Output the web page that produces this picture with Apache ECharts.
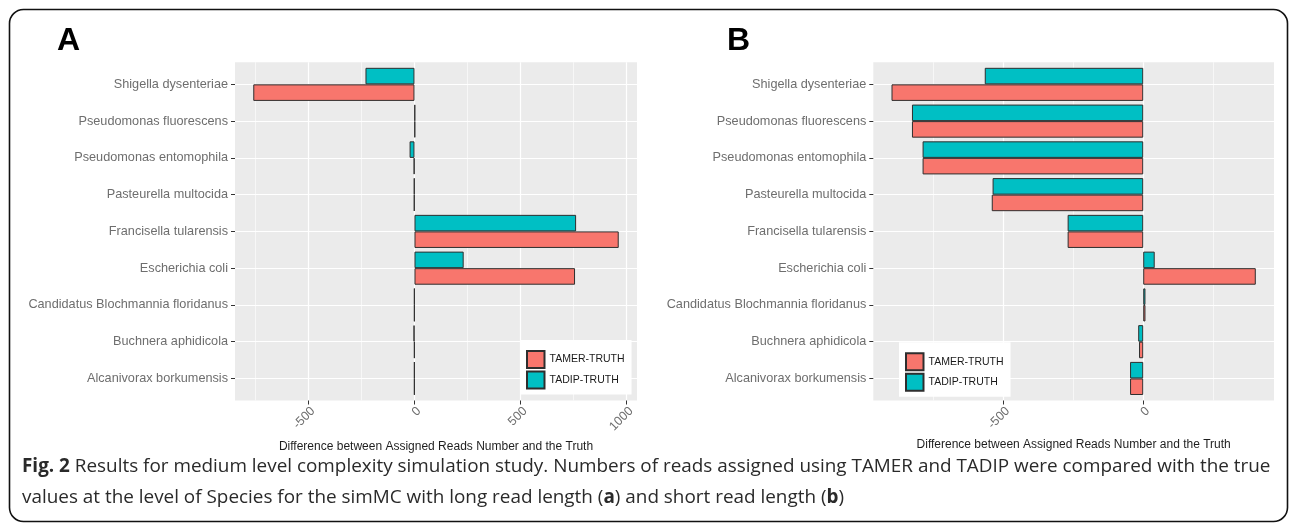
<!DOCTYPE html>
<html><head><meta charset="utf-8">
<script src="https://cdn.jsdelivr.net/npm/echarts@6/dist/echarts.min.js"></script>
<style>html,body{margin:0;padding:0;background:#fff}#c{width:1295px;height:523px}</style>
</head><body><div id="c"></div>
<script>
// ---- data ----
const categories = ['Shigella dysenteriae','Pseudomonas fluorescens','Pseudomonas entomophila','Pasteurella multocida','Francisella tularensis','Escherichia coli','Candidatus Blochmannia floridanus','Buchnera aphidicola','Alcanivorax borkumensis'];
const tamerA = [-760, 3, -3, -2, 963, 757, -1, -1, -1];
const tadipA = [-231, 3, -23, -2, 762, 232, -1, -4, -1];
const tamerB = [-899, -826, -788, -541, -270, 402, 8, -15, -47];
const tadipB = [-566, -826, -788, -538, -270, 41, 8, -18, -47];
const majorTicksA = [-500, 0, 500, 1000];
const minorTicksA = [-750, -250, 250, 750];
const majorTicksB = [-500, 0];
const minorTicksB = [-750, -250, 250];
const seriesNames = ['TAMER-TRUTH', 'TADIP-TRUTH'];
const axisTitle = 'Difference between Assigned Reads Number and the Truth';

function limits(a, b) {
  const all = a.concat(b, [0]);
  const lo = Math.min(...all), hi = Math.max(...all);
  const pad = (hi - lo) * 0.05;
  return [lo - pad, hi + pad];
}

const TAMER_COL = '#F8766D', TADIP_COL = '#00BFC4';
const labelGray = '#6e6e6e';
const FONT = 'Liberation Sans';

const panelTop = 62.3, panelH = 338.2;
const inset = panelH / 9.2 * 0.1;

const grids = [], xAxes = [], yAxes = [], series = [];

function addPanel(left, width, lim, major, minor, tamer, tadip) {
  const g0 = grids.length;
  grids.push({left: left, top: panelTop, width: width, height: panelH, show: true, backgroundColor: '#EBEBEB', borderWidth: 0, containLabel: false});
  grids.push({left: left, top: panelTop + inset, width: width, height: panelH - 2 * inset, containLabel: false});
  const g1 = g0 + 1;
  xAxes.push({
    gridIndex: g0, type: 'value', min: lim[0], max: lim[1], position: 'bottom',
    axisLine: {show: false, onZero: false},
    axisTick: {show: true, customValues: major, length: 4, lineStyle: {color: '#333', width: 1}},
    axisLabel: {show: true, customValues: major, rotate: 45, color: labelGray, fontSize: 12.5, margin: 4,
      verticalAlign: 'top', fontFamily: FONT, formatter: v => String(v)},
    splitLine: {show: true, lineStyle: {color: '#fff', width: 1.2}},
    name: axisTitle, nameLocation: 'middle', nameGap: 38,
    nameTextStyle: {color: '#1e1e1e', fontSize: 12, fontFamily: FONT}
  });
  xAxes.push({
    gridIndex: g0, type: 'value', min: lim[0], max: lim[1], position: 'bottom',
    axisLine: {show: false, onZero: false},
    axisTick: {show: false, customValues: minor},
    axisLabel: {show: false, customValues: minor},
    splitLine: {show: true, lineStyle: {color: '#fff', width: 0.6}}
  });
  const xBar = xAxes.length;
  xAxes.push({gridIndex: g1, type: 'value', min: lim[0], max: lim[1], show: false});
  yAxes.push({gridIndex: g0, type: 'value', min: 0, max: 1, show: false});
  const yBar = yAxes.length;
  yAxes.push({
    gridIndex: g1, type: 'category', data: categories, inverse: true, position: 'left',
    axisLine: {show: false, onZero: false},
    axisTick: {show: true, alignWithLabel: true, interval: 0, length: 4, lineStyle: {color: '#333', width: 1}},
    axisLabel: {interval: 0, color: labelGray, fontSize: 12.7, margin: 7, fontFamily: FONT},
    splitLine: {show: true, alignWithLabel: true, interval: 0, lineStyle: {color: '#fff', width: 1.2}}
  });
  const common = {type: 'bar', xAxisIndex: xBar, yAxisIndex: yBar, barGap: '0%', barCategoryGap: '10%',
    emphasis: {disabled: true}, silent: true};
  series.push(Object.assign({}, common, {name: seriesNames[1], data: tadip,
    itemStyle: {color: TADIP_COL, borderColor: '#2e2e2e', borderWidth: 1}}));
  series.push(Object.assign({}, common, {name: seriesNames[0], data: tamer,
    itemStyle: {color: TAMER_COL, borderColor: '#2e2e2e', borderWidth: 1}}));
}

addPanel(235, 402, limits(tamerA, tadipA), majorTicksA, minorTicksA, tamerA, tadipA);
addPanel(873.3, 400.7, limits(tamerB, tadipB), majorTicksB, minorTicksB, tamerB, tadipB);

function legend(left, top) {
  return {data: seriesNames, orient: 'vertical', left: left, top: top, padding: [10, 7, 5, 6],
    backgroundColor: '#fff', itemWidth: 17.5, itemHeight: 17, itemGap: 1.5, icon: 'rect',
    selectedMode: false, textStyle: {fontSize: 10.5, color: '#1a1a1a', fontFamily: FONT}};
}

const capFont = 'Open Sans';
const capSize = 18.9;
const option = {
  animation: false,
  grid: grids, xAxis: xAxes, yAxis: yAxes, series: series,
  legend: [legend(520, 340), legend(899, 342.3)],
  graphic: [
    {type: 'rect', z: -5, silent: true, shape: {x: 9.5, y: 9.5, width: 1278, height: 512, r: 14},
      style: {fill: 'none', stroke: '#111', lineWidth: 1.6}},
    {type: 'text', left: 57, top: 25, silent: true, style: {text: 'A', font: 'bold 32px "Liberation Sans"', fill: '#000'}},
    {type: 'text', left: 727, top: 25, silent: true, style: {text: 'B', font: 'bold 32px "Liberation Sans"', fill: '#000'}},
    {type: 'text', left: 22, top: 457, silent: true, style: {
      text: '{b|Fig. 2} Results for medium level complexity simulation study. Numbers of reads assigned using TAMER and TADIP were compared with the true',
      fontSize: capSize, fontFamily: capFont, fill: '#2a2a2a',
      rich: {b: {fontWeight: 'bold', fontSize: capSize, fontFamily: capFont, fill: '#2a2a2a'}}}},
    {type: 'text', left: 22, top: 488, silent: true, style: {
      text: 'values at the level of Species for the simMC with long read length ({b|a}) and short read length ({b|b})',
      fontSize: capSize, fontFamily: capFont, fill: '#2a2a2a',
      rich: {b: {fontWeight: 'bold', fontSize: capSize, fontFamily: capFont, fill: '#2a2a2a'}}}}
  ]
};
const chart = echarts.init(document.getElementById('c'), null, {renderer: 'canvas'});
chart.setOption(option);
</script>
</body></html>
